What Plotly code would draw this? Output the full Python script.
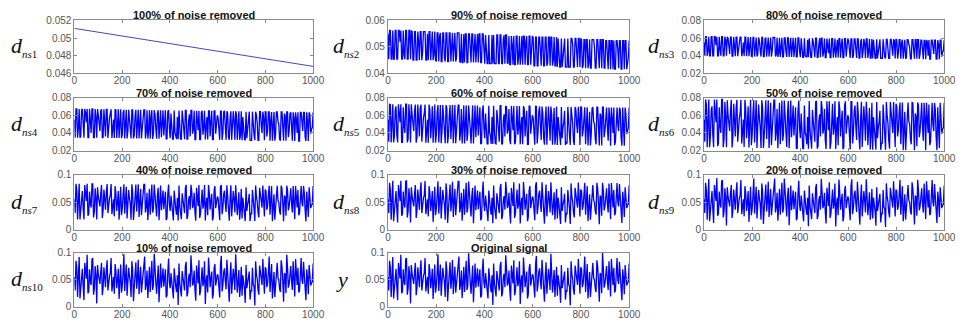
import numpy as np
import plotly.graph_objects as go

# ---------------- data -------------
# Noisy panels: values in units of 1e-4, 300 samples over 0..1000.
# "_a" lists hold the even samples, "_b" lists the odd samples.
x_ticks = [0, 200, 400, 600, 800, 1000]
trend_x = [0, 1000]
d_ns1 = [0.0511, 0.0468]

d_ns2_a = [550, 562, 454, 562, 454, 562, 454, 562, 562, 454, 470, 562, 454, 562, 454,
           558, 450, 558, 450, 520, 558, 450, 558, 558, 450, 450, 558, 490, 450, 558,
           445, 553, 540, 445, 553, 460, 553, 445, 553, 445, 553, 500, 445, 553, 553,
           441, 441, 549, 549, 441, 549, 450, 549, 441, 549, 530, 441, 549, 441, 549,
           437, 480, 437, 437, 437, 437, 437, 437, 545, 437, 545, 437, 545, 545, 437,
           541, 433, 510, 541, 433, 541, 460, 433, 541, 541, 433, 541, 433, 541, 480,
           537, 429, 537, 429, 537, 429, 537, 429, 537, 440, 537, 537, 429, 537, 429,
           424, 450, 424, 424, 520, 424, 424, 424, 424, 532, 424, 532, 490, 532, 424,
           528, 430, 528, 528, 420, 528, 420, 528, 500, 420, 528, 420, 528, 528, 420,
           524, 470, 524, 416, 524, 524, 416, 524, 420, 524, 416, 524, 524, 416, 460]
d_ns2_b = [454, 562, 454, 454, 562, 454, 562, 520, 454, 562, 454, 562, 454, 562, 562,
           450, 558, 450, 558, 450, 558, 480, 558, 450, 550, 558, 450, 558, 470, 450,
           553, 445, 553, 445, 553, 445, 553, 445, 553, 510, 445, 553, 460, 553, 445,
           549, 441, 441, 549, 441, 549, 441, 549, 490, 441, 549, 549, 441, 549, 450,
           545, 437, 545, 437, 545, 545, 437, 545, 437, 545, 437, 530, 437, 545, 440,
           433, 541, 433, 433, 541, 433, 541, 470, 433, 541, 520, 433, 541, 433, 541,
           429, 537, 429, 537, 480, 537, 429, 537, 429, 537, 429, 537, 450, 429, 537,
           532, 424, 532, 460, 532, 424, 532, 424, 532, 510, 424, 532, 424, 532, 532,
           420, 528, 420, 528, 440, 420, 528, 528, 420, 528, 470, 528, 420, 528, 420,
           524, 416, 524, 524, 416, 416, 524, 490, 524, 416, 524, 416, 524, 440, 524]

d_ns3_a = [550, 616, 400, 616, 400, 616, 400, 616, 616, 400, 470, 616, 400, 616, 400,
           600, 420, 612, 396, 520, 612, 396, 570, 612, 440, 396, 612, 490, 396, 612,
           391, 607, 540, 391, 607, 460, 607, 391, 590, 391, 607, 500, 391, 607, 607,
           410, 387, 603, 580, 387, 603, 450, 603, 387, 603, 530, 387, 603, 387, 603,
           383, 480, 383, 400, 383, 383, 430, 383, 560, 383, 599, 383, 599, 599, 390,
           595, 379, 510, 595, 379, 595, 460, 379, 580, 595, 379, 595, 379, 595, 480,
           570, 375, 591, 400, 591, 375, 591, 375, 591, 440, 540, 591, 375, 591, 375,
           370, 450, 370, 370, 520, 370, 370, 410, 370, 586, 370, 586, 490, 586, 370,
           582, 430, 582, 550, 366, 582, 380, 582, 500, 366, 582, 366, 582, 582, 366,
           578, 470, 578, 362, 560, 578, 362, 578, 420, 578, 362, 530, 578, 390, 460]
d_ns3_b = [400, 616, 450, 400, 616, 400, 616, 520, 400, 616, 400, 616, 400, 580, 616,
           440, 612, 396, 612, 396, 612, 480, 612, 396, 550, 612, 396, 612, 470, 396,
           607, 391, 607, 420, 570, 391, 607, 391, 607, 510, 391, 607, 460, 607, 391,
           603, 430, 387, 603, 390, 603, 387, 603, 490, 387, 603, 560, 387, 603, 450,
           599, 383, 599, 383, 580, 599, 383, 599, 410, 599, 383, 530, 383, 599, 440,
           379, 595, 430, 379, 595, 380, 595, 470, 379, 595, 520, 379, 595, 390, 595,
           410, 591, 375, 591, 480, 591, 375, 560, 375, 591, 375, 591, 450, 375, 591,
           580, 370, 586, 460, 586, 370, 586, 380, 586, 510, 370, 586, 400, 570, 586,
           366, 582, 366, 582, 440, 366, 582, 530, 366, 582, 470, 582, 366, 582, 420,
           578, 362, 570, 578, 400, 362, 578, 490, 578, 362, 578, 362, 578, 440, 578]

d_ns4_a = [550, 670, 346, 670, 360, 670, 346, 630, 670, 346, 470, 670, 346, 670, 346,
           600, 420, 666, 350, 520, 666, 342, 570, 666, 440, 342, 660, 490, 342, 666,
           380, 661, 540, 337, 661, 460, 661, 337, 590, 337, 661, 500, 337, 640, 661,
           410, 333, 657, 580, 333, 657, 450, 620, 333, 657, 530, 370, 657, 333, 657,
           340, 480, 329, 400, 329, 329, 430, 329, 560, 329, 653, 329, 610, 653, 390,
           649, 325, 510, 649, 325, 649, 460, 325, 580, 649, 360, 649, 325, 649, 480,
           570, 321, 645, 400, 645, 321, 620, 321, 645, 440, 540, 645, 321, 645, 370,
           316, 450, 316, 340, 520, 316, 316, 410, 316, 600, 316, 640, 490, 640, 316,
           636, 430, 636, 550, 312, 636, 380, 636, 500, 312, 636, 312, 590, 636, 350,
           620, 470, 632, 308, 560, 632, 308, 632, 420, 632, 308, 530, 632, 390, 460]
d_ns4_b = [346, 670, 450, 346, 660, 380, 670, 520, 346, 670, 400, 670, 346, 580, 670,
           440, 650, 342, 666, 360, 666, 480, 620, 342, 550, 666, 342, 666, 470, 342,
           630, 337, 661, 420, 570, 337, 661, 370, 661, 510, 337, 661, 460, 661, 337,
           657, 430, 333, 657, 390, 610, 333, 657, 490, 350, 657, 560, 333, 640, 450,
           620, 329, 653, 370, 580, 653, 329, 653, 410, 653, 329, 530, 360, 653, 440,
           325, 649, 430, 325, 630, 380, 649, 470, 325, 649, 520, 325, 649, 390, 600,
           410, 645, 321, 640, 480, 645, 350, 560, 321, 645, 321, 610, 450, 321, 645,
           580, 330, 640, 460, 640, 316, 640, 380, 640, 510, 316, 640, 400, 570, 640,
           360, 636, 312, 636, 440, 312, 636, 530, 330, 636, 470, 620, 312, 636, 420,
           632, 310, 570, 632, 400, 308, 632, 490, 632, 350, 632, 308, 610, 440, 632]

d_ns5_a = [550, 724, 292, 724, 360, 700, 292, 630, 724, 292, 470, 724, 292, 724, 292,
           600, 420, 720, 350, 520, 680, 300, 570, 720, 440, 288, 660, 490, 288, 720,
           380, 715, 540, 283, 715, 460, 715, 283, 590, 330, 715, 500, 283, 640, 715,
           410, 279, 711, 580, 310, 711, 450, 620, 279, 711, 530, 370, 690, 279, 711,
           340, 480, 275, 400, 275, 275, 430, 275, 560, 300, 707, 275, 610, 707, 390,
           670, 271, 510, 703, 290, 703, 460, 271, 580, 703, 360, 650, 271, 703, 480,
           570, 267, 699, 400, 699, 320, 620, 267, 699, 440, 540, 699, 267, 680, 370,
           262, 450, 262, 340, 520, 262, 280, 410, 262, 600, 310, 694, 490, 694, 262,
           690, 430, 690, 550, 258, 640, 380, 690, 500, 270, 690, 258, 590, 690, 350,
           620, 470, 686, 254, 560, 686, 300, 686, 420, 660, 254, 530, 686, 390, 460]
d_ns5_b = [300, 720, 450, 292, 660, 380, 724, 520, 292, 690, 400, 724, 330, 580, 724,
           440, 650, 288, 720, 360, 720, 480, 620, 288, 550, 720, 340, 700, 470, 288,
           630, 290, 715, 420, 570, 283, 680, 370, 715, 510, 283, 715, 460, 715, 310,
           670, 430, 279, 711, 390, 610, 279, 711, 490, 350, 710, 560, 279, 640, 450,
           620, 275, 707, 370, 580, 707, 280, 660, 410, 707, 275, 530, 360, 690, 440,
           320, 703, 430, 271, 630, 380, 703, 470, 271, 670, 520, 271, 703, 390, 600,
           410, 699, 280, 640, 480, 699, 350, 560, 267, 699, 310, 610, 450, 267, 699,
           580, 330, 694, 460, 650, 290, 694, 380, 694, 510, 262, 660, 400, 570, 694,
           360, 640, 270, 690, 440, 258, 680, 530, 330, 690, 470, 620, 258, 690, 420,
           686, 310, 570, 686, 400, 260, 650, 490, 686, 350, 686, 254, 610, 440, 686]

d_ns6_a = [550, 778, 238, 778, 360, 700, 238, 630, 778, 280, 470, 778, 238, 750, 238,
           600, 420, 774, 350, 520, 680, 300, 570, 774, 440, 240, 660, 490, 234, 774,
           380, 769, 540, 229, 720, 460, 769, 229, 590, 330, 769, 500, 260, 640, 769,
           410, 225, 740, 580, 310, 765, 450, 620, 225, 765, 530, 370, 690, 225, 765,
           340, 480, 221, 400, 270, 221, 430, 221, 560, 300, 761, 250, 610, 761, 390,
           670, 217, 510, 757, 290, 730, 460, 217, 580, 757, 360, 650, 230, 757, 480,
           570, 213, 753, 400, 710, 320, 620, 213, 753, 440, 540, 753, 260, 680, 370,
           208, 450, 208, 340, 520, 208, 280, 410, 208, 600, 310, 748, 490, 748, 240,
           700, 430, 744, 550, 204, 640, 380, 744, 500, 270, 740, 204, 590, 744, 350,
           620, 470, 740, 200, 560, 720, 300, 740, 420, 660, 200, 530, 740, 390, 460]
d_ns6_b = [300, 720, 450, 238, 660, 380, 778, 520, 250, 690, 400, 778, 330, 580, 770,
           440, 650, 234, 730, 360, 774, 480, 620, 280, 550, 774, 340, 700, 470, 260,
           630, 290, 769, 420, 570, 229, 680, 370, 769, 510, 230, 740, 460, 769, 310,
           670, 430, 270, 765, 390, 610, 240, 760, 490, 350, 710, 560, 225, 640, 450,
           620, 221, 710, 370, 580, 761, 280, 660, 410, 750, 221, 530, 360, 690, 440,
           320, 757, 430, 217, 630, 380, 757, 470, 260, 670, 520, 217, 710, 390, 600,
           410, 753, 280, 640, 480, 753, 350, 560, 240, 700, 310, 610, 450, 213, 740,
           580, 330, 748, 460, 650, 290, 720, 380, 748, 510, 220, 660, 400, 570, 730,
           360, 640, 270, 744, 440, 204, 680, 530, 330, 744, 470, 620, 250, 710, 420,
           740, 310, 570, 740, 400, 260, 650, 490, 740, 350, 690, 230, 610, 440, 740]

d_ns7_a = [550, 832, 184, 832, 360, 700, 184, 630, 832, 280, 470, 832, 220, 750, 184,
           600, 420, 810, 350, 520, 680, 300, 570, 828, 440, 240, 660, 490, 180, 780,
           380, 823, 540, 200, 720, 460, 823, 175, 590, 330, 823, 500, 260, 640, 823,
           410, 171, 740, 580, 310, 819, 450, 620, 171, 800, 530, 370, 690, 210, 819,
           340, 480, 167, 400, 270, 167, 430, 190, 560, 300, 815, 250, 610, 815, 390,
           670, 163, 510, 811, 290, 730, 460, 163, 580, 811, 360, 650, 230, 790, 480,
           570, 170, 807, 400, 710, 320, 620, 159, 807, 440, 540, 807, 260, 680, 370,
           200, 450, 154, 340, 520, 154, 280, 410, 154, 600, 310, 760, 490, 802, 240,
           700, 430, 798, 550, 150, 640, 380, 798, 500, 270, 740, 150, 590, 798, 350,
           620, 470, 794, 190, 560, 720, 300, 794, 420, 660, 146, 530, 770, 390, 460]
d_ns7_b = [300, 720, 450, 184, 660, 380, 810, 520, 250, 690, 400, 832, 330, 580, 770,
           440, 650, 210, 730, 360, 828, 480, 620, 280, 550, 790, 340, 700, 470, 260,
           630, 290, 780, 420, 570, 180, 680, 370, 820, 510, 230, 740, 460, 823, 310,
           670, 430, 270, 819, 390, 610, 240, 760, 490, 350, 710, 560, 171, 640, 450,
           620, 220, 710, 370, 580, 800, 280, 660, 410, 750, 190, 530, 360, 690, 440,
           320, 760, 430, 210, 630, 380, 811, 470, 260, 670, 520, 163, 710, 390, 600,
           410, 790, 280, 640, 480, 807, 350, 560, 240, 700, 310, 610, 450, 180, 740,
           580, 330, 770, 460, 650, 290, 720, 380, 802, 510, 220, 660, 400, 570, 730,
           360, 640, 270, 790, 440, 180, 680, 530, 330, 798, 470, 620, 250, 710, 420,
           750, 310, 570, 794, 400, 260, 650, 490, 794, 350, 690, 230, 610, 440, 794]

d_ns8_a = [550, 850, 180, 886, 360, 700, 130, 630, 886, 280, 470, 880, 220, 750, 130,
           600, 420, 810, 350, 520, 680, 300, 570, 882, 440, 240, 660, 490, 140, 780,
           380, 877, 540, 200, 720, 460, 840, 121, 590, 330, 870, 500, 260, 640, 877,
           410, 160, 740, 580, 310, 873, 450, 620, 117, 800, 530, 370, 690, 210, 873,
           340, 480, 150, 400, 270, 113, 430, 190, 560, 300, 830, 250, 610, 869, 390,
           670, 110, 510, 860, 290, 730, 460, 109, 580, 865, 360, 650, 230, 790, 480,
           570, 170, 861, 400, 710, 320, 620, 105, 820, 440, 540, 861, 260, 680, 370,
           200, 450, 100, 340, 520, 130, 280, 410, 100, 600, 310, 760, 490, 856, 240,
           700, 430, 852, 550, 150, 640, 380, 810, 500, 270, 740, 96, 590, 852, 350,
           620, 470, 840, 190, 560, 720, 300, 848, 420, 660, 120, 530, 770, 390, 460]
d_ns8_b = [300, 720, 450, 150, 660, 380, 810, 520, 250, 690, 400, 886, 330, 580, 770,
           440, 650, 210, 730, 360, 860, 480, 620, 280, 550, 790, 340, 700, 470, 260,
           630, 290, 780, 420, 570, 180, 680, 370, 820, 510, 230, 740, 460, 877, 310,
           670, 430, 270, 850, 390, 610, 240, 760, 490, 350, 710, 560, 170, 640, 450,
           620, 220, 710, 370, 580, 800, 280, 660, 410, 750, 190, 530, 360, 690, 440,
           320, 760, 430, 210, 630, 380, 840, 470, 260, 670, 520, 150, 710, 390, 600,
           410, 790, 280, 640, 480, 861, 350, 560, 240, 700, 310, 610, 450, 180, 740,
           580, 330, 770, 460, 650, 290, 720, 380, 840, 510, 220, 660, 400, 570, 730,
           360, 640, 270, 790, 440, 180, 680, 530, 330, 852, 470, 620, 250, 710, 420,
           750, 310, 570, 848, 400, 260, 650, 490, 830, 350, 690, 230, 610, 440, 800]

d_ns9_a = [550, 850, 180, 920, 360, 700, 120, 630, 940, 280, 470, 880, 220, 750, 76,
           600, 420, 810, 350, 520, 680, 300, 570, 900, 440, 240, 660, 490, 140, 780,
           380, 931, 540, 200, 720, 460, 840, 100, 590, 330, 870, 500, 260, 640, 930,
           410, 160, 740, 580, 310, 927, 450, 620, 80, 800, 530, 370, 690, 210, 890,
           340, 480, 150, 400, 270, 59, 430, 190, 560, 300, 830, 250, 610, 923, 390,
           670, 110, 510, 860, 290, 730, 460, 55, 580, 910, 360, 650, 230, 790, 480,
           570, 170, 915, 400, 710, 320, 620, 90, 820, 440, 540, 915, 260, 680, 370,
           200, 450, 70, 340, 520, 130, 280, 410, 46, 600, 310, 760, 490, 880, 240,
           700, 430, 906, 550, 150, 640, 380, 810, 500, 270, 740, 90, 590, 906, 350,
           620, 470, 840, 190, 560, 720, 300, 900, 420, 660, 120, 530, 770, 390, 460]

d_ns10_a = [550, 850, 180, 920, 360, 700, 120, 630, 960, 280, 470, 880, 220, 750, 60,
            600, 420, 810, 350, 520, 680, 300, 570, 900, 440, 240, 660, 490, 140, 780,
            380, 970, 540, 200, 720, 460, 840, 100, 590, 330, 870, 500, 260, 640, 930,
            410, 160, 740, 580, 310, 981, 450, 620, 80, 800, 530, 370, 690, 210, 890,
            340, 480, 150, 400, 270, 30, 430, 190, 560, 300, 830, 250, 610, 950, 390,
            670, 110, 510, 860, 290, 730, 460, 50, 580, 910, 360, 650, 230, 790, 480,
            570, 170, 940, 400, 710, 320, 620, 90, 820, 440, 540, 969, 260, 680, 370,
            200, 450, 70, 340, 520, 130, 280, 410, 20, 600, 310, 760, 490, 880, 240,
            700, 430, 930, 550, 150, 640, 380, 810, 500, 270, 740, 90, 590, 960, 350,
            620, 470, 840, 190, 560, 720, 300, 900, 420, 660, 120, 530, 770, 390, 460]

y_orig_a = [550, 850, 180, 920, 360, 700, 120, 630, 960, 280, 470, 880, 220, 750, 60,
            600, 420, 810, 350, 520, 680, 300, 570, 900, 440, 240, 660, 490, 140, 780,
            380, 970, 540, 200, 720, 460, 840, 100, 590, 330, 870, 500, 260, 640, 930,
            410, 160, 740, 580, 310, 990, 450, 620, 80, 800, 530, 370, 690, 210, 890,
            340, 480, 150, 400, 270, 30, 430, 190, 560, 300, 830, 250, 610, 950, 390,
            670, 110, 510, 860, 290, 730, 460, 50, 580, 910, 360, 650, 230, 790, 480,
            570, 170, 940, 400, 710, 320, 620, 90, 820, 440, 540, 980, 260, 680, 370,
            200, 450, 70, 340, 520, 130, 280, 410, 20, 600, 310, 760, 490, 880, 240,
            700, 430, 930, 550, 150, 640, 380, 810, 500, 270, 740, 90, 590, 1000, 350,
            620, 470, 840, 190, 560, 720, 300, 900, 420, 660, 120, 530, 770, 390, 460]
y_orig_b = [300, 720, 450, 150, 660, 380, 810, 520, 250, 690, 400, 900, 330, 580, 770,
            440, 650, 210, 730, 360, 860, 480, 620, 280, 550, 790, 340, 700, 470, 260,
            630, 290, 780, 420, 570, 180, 680, 370, 820, 510, 230, 740, 460, 880, 310,
            670, 430, 270, 850, 390, 610, 240, 760, 490, 350, 710, 560, 170, 640, 450,
            620, 220, 710, 370, 580, 800, 280, 660, 410, 750, 190, 530, 360, 690, 440,
            320, 760, 430, 210, 630, 380, 840, 470, 260, 670, 520, 150, 710, 390, 600,
            410, 790, 280, 640, 480, 870, 350, 560, 240, 700, 310, 610, 450, 180, 740,
            580, 330, 770, 460, 650, 290, 720, 380, 840, 510, 220, 660, 400, 570, 730,
            360, 640, 270, 790, 440, 180, 680, 530, 330, 860, 470, 620, 250, 710, 420,
            750, 310, 570, 880, 400, 260, 650, 490, 830, 350, 690, 230, 610, 440, 800]
# the 20% and 10% panels keep every odd sample of the original unchanged
d_ns9_b = list(y_orig_b)
d_ns10_b = list(y_orig_b)

titles = ["100% of noise removed", "90% of noise removed", "80% of noise removed",
          "70% of noise removed", "60% of noise removed", "50% of noise removed",
          "40% of noise removed", "30% of noise removed", "20% of noise removed",
          "10% of noise removed", "Original signal"]
sub_labels = ["1", "2", "3", "4", "5", "6", "7", "8", "9", "10", None]

ytick_sets = {
    "a": ([0.046, 0.048, 0.05, 0.052], ["0.046", "0.048", "0.05", "0.052"]),
    "b": ([0.04, 0.05, 0.06], ["0.04", "0.05", "0.06"]),
    "c": ([0.02, 0.04, 0.06, 0.08], ["0.02", "0.04", "0.06", "0.08"]),
    "d": ([0, 0.05, 0.1], ["0", "0.05", "0.1"]),
}
panel_ticks = ["a", "b", "c", "c", "c", "c", "d", "d", "d", "d", "d"]


def merge(a, b):
    out = []
    for p, q in zip(a, b):
        out += [p, q]
    return np.array(out) / 1e4


series = [None,
          merge(d_ns2_a, d_ns2_b), merge(d_ns3_a, d_ns3_b), merge(d_ns4_a, d_ns4_b),
          merge(d_ns5_a, d_ns5_b), merge(d_ns6_a, d_ns6_b), merge(d_ns7_a, d_ns7_b),
          merge(d_ns8_a, d_ns8_b), merge(d_ns9_a, d_ns9_b), merge(d_ns10_a, d_ns10_b),
          merge(y_orig_a, y_orig_b)]

# ---------------- layout geometry -------------
W, H = 968, 329
col_px = [(72.5, 315), (391, 636), (712, 956)]
row_px = [(15, 70), (95, 150), (175, 232), (256, 312)]
label_px = [6, 333, 653]

fig = go.Figure()
annotations = []
n = len(series[-1])
xs = np.arange(n) * 1000.0 / (n - 1)
tickfont = dict(family="Liberation Sans, Arial", size=10, color="#555555")

for i in range(11):
    r, c = divmod(i, 3)
    k = i + 1
    xa = "x" if k == 1 else f"x{k}"
    ya = "y" if k == 1 else f"y{k}"
    if i == 0:
        fig.add_trace(go.Scatter(x=trend_x, y=d_ns1, mode="lines",
                                 line=dict(color="rgb(70,70,185)", width=1),
                                 xaxis=xa, yaxis=ya, showlegend=False))
    else:
        fig.add_trace(go.Scatter(x=xs, y=series[i], mode="lines",
                                 line=dict(color="#0000ff", width=1.3),
                                 xaxis=xa, yaxis=ya, showlegend=False))
    x0, x1 = col_px[c]
    y0, y1 = row_px[r]
    tv, tt = ytick_sets[panel_ticks[i]]
    common = dict(showline=True, linecolor="#8a8a8a", linewidth=1, mirror="ticks",
                  ticks="inside", ticklen=3, tickcolor="#8a8a8a", showgrid=False,
                  zeroline=False, tickfont=tickfont)
    fig.layout[("xaxis" if k == 1 else f"xaxis{k}")] = dict(
        domain=[x0 / W, x1 / W], anchor=ya, range=[0, 1000], ticklabelstandoff=-2,
        tickvals=x_ticks, ticktext=[str(t) for t in x_ticks], **common)
    fig.layout[("yaxis" if k == 1 else f"yaxis{k}")] = dict(
        domain=[1 - y1 / H, 1 - y0 / H], anchor=xa, range=[tv[0], tv[-1]],
        tickvals=tv, ticktext=tt, **common)
    annotations.append(dict(text="<b>" + titles[i] + "</b>", x=(x0 + x1) / 2 / W,
                            y=1 - y0 / H, xref="paper", yref="paper", xanchor="center",
                            yanchor="bottom", yshift=-2, borderpad=0, showarrow=False,
                            font=dict(family="Liberation Sans, Arial", size=11, color="#111111")))
    if sub_labels[i] is None:
        lab = "<i>y</i>"
        lx = 336
    else:
        lab = ("<i>d</i><sub><span style='font-size:11px'><i>ns</i>" + sub_labels[i]
               + "</span></sub>")
        lx = label_px[c]
    annotations.append(dict(text=lab, x=lx / W, y=1 - (y0 + y1) / 2 / H,
                            xref="paper", yref="paper", xanchor="left", yanchor="middle",
                            showarrow=False,
                            font=dict(family="Liberation Serif, Times New Roman", size=22,
                                      color="#111111")))

fig.update_layout(width=W, height=H, margin=dict(l=0, r=0, t=0, b=0),
                  paper_bgcolor="white", plot_bgcolor="white",
                  annotations=annotations, showlegend=False)
fig.write_html("out.html", config={"displayModeBar": False},
               post_script="document.body.style.margin='0';")
